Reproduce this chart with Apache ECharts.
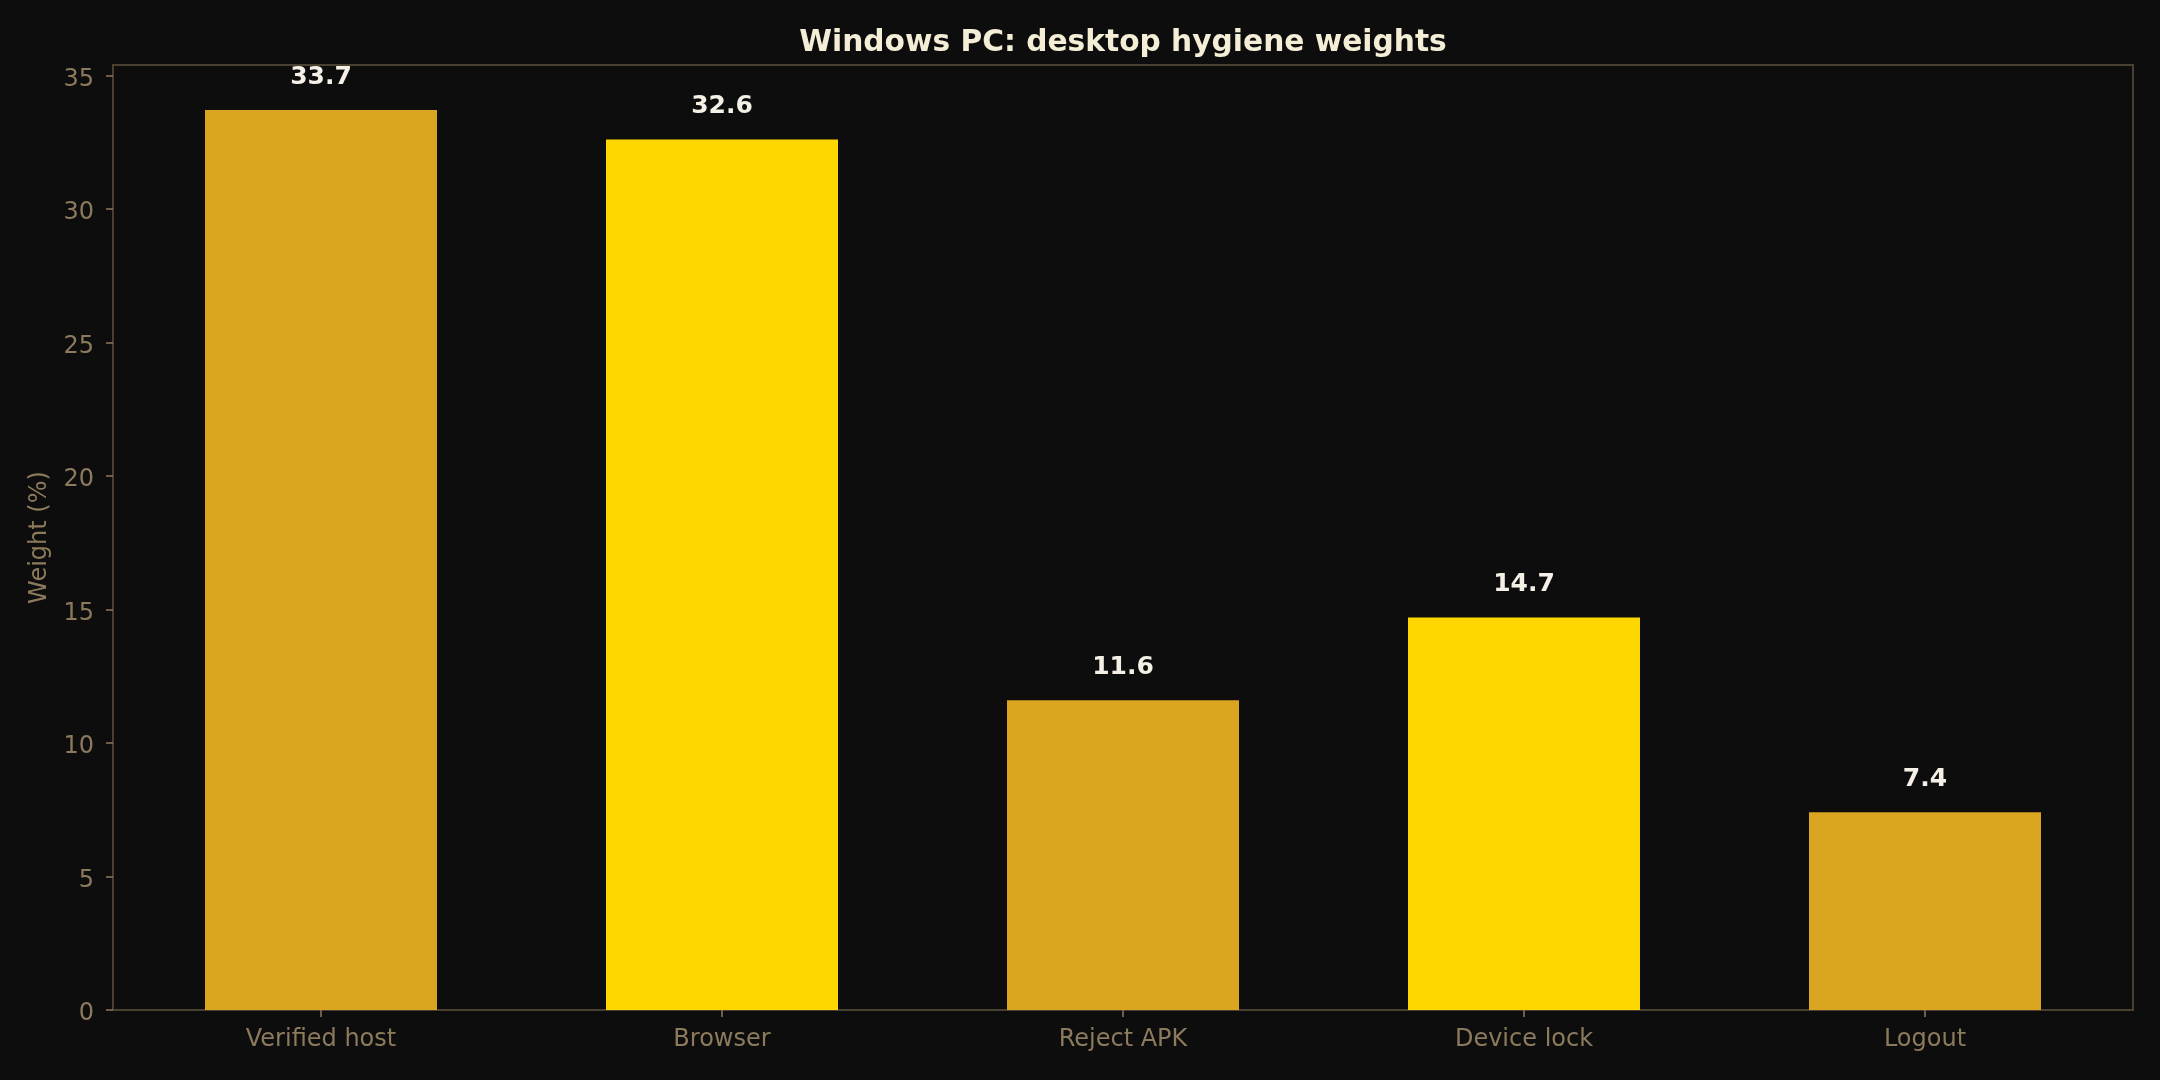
<!DOCTYPE html>
<html>
<head>
<meta charset="utf-8">
<script src="https://cdn.jsdelivr.net/npm/echarts@6/dist/echarts.min.js"></script>
<style>
  html, body { margin: 0; padding: 0; background: #0d0d0d; }
  #chart { width: 2160px; height: 1080px; }
</style>
</head>
<body>
<div id="chart"></div>
<script>
const categories = ['Verified host', 'Browser', 'Reject APK', 'Device lock', 'Logout'];
const weights = [33.7, 32.6, 11.6, 14.7, 7.4];
const barColors = ['#DAA520', '#FFD700', '#DAA520', '#FFD700', '#DAA520'];
const yTicks = [0, 5, 10, 15, 20, 25, 30, 35];

const font = 'DejaVu Sans';
const tickColor = '#8c7a5c';
const frameColor = '#4a4030';
const yMax = 35.385;

const chart = echarts.init(document.getElementById('chart'));
chart.setOption({
  backgroundColor: '#0d0d0d',
  animation: false,
  title: {
    text: 'Windows PC: desktop hygiene weights',
    left: 1118, top: 23, textAlign: 'center',
    textStyle: { color: '#f5eed6', fontFamily: font, fontWeight: 'bold', fontSize: 29.7 }
  },
  grid: [
    // frame + y axis
    { left: 113, top: 65, width: 2020, height: 945, show: true,
      borderColor: frameColor, borderWidth: 2, backgroundColor: 'transparent' },
    // bars
    { left: 120.5, top: 65, width: 2005, height: 945 }
  ],
  xAxis: [
    { gridIndex: 0, type: 'value', show: false, min: 0, max: 1 },
    { gridIndex: 1, type: 'category', data: categories,
      axisLine: { show: false },
      axisTick: { show: true, alignWithLabel: true, length: 7, lineStyle: { color: tickColor, width: 1.5 } },
      axisLabel: { color: tickColor, fontFamily: font, fontSize: 24, margin: 18 } }
  ],
  yAxis: [
    { gridIndex: 0, type: 'value', min: 0, max: yMax, interval: 5,
      name: 'Weight (%)', nameLocation: 'middle', nameGap: 61,
      nameTextStyle: { color: tickColor, fontFamily: font, fontSize: 24 },
      axisLine: { show: false },
      axisTick: { show: true, length: 7, lineStyle: { color: tickColor, width: 1.5 },
        customValues: yTicks },
      axisLabel: { color: tickColor, fontFamily: font, fontSize: 24, margin: 19,
        customValues: yTicks,
        formatter: v => (yTicks.indexOf(v) >= 0 ? '{t|' + v + '}' : ''),
        rich: { t: { color: tickColor, fontFamily: font, fontSize: 24, padding: [8, 0, 0, 0] } } },
      splitLine: { show: false } },
    { gridIndex: 1, type: 'value', min: 0, max: yMax, show: false, splitLine: { show: false } }
  ],
  series: [{
    type: 'bar',
    xAxisIndex: 1, yAxisIndex: 1,
    barWidth: 232,
    data: weights.map((v, i) => ({ value: v, itemStyle: { color: barColors[i] } })),
    label: {
      show: true, position: 'top', distance: 20,
      color: '#f5f0e6', fontFamily: font, fontWeight: 'bold', fontSize: 25,
      formatter: p => p.value.toFixed(1)
    }
  }]
});
</script>
</body>
</html>
